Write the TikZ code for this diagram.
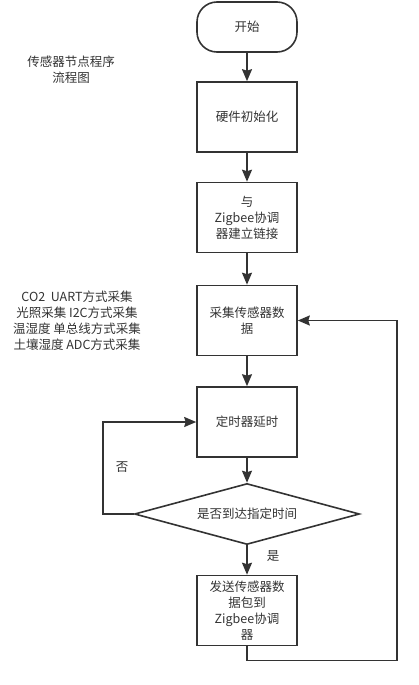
\documentclass[tikz,border=0pt]{standalone}
\usepackage{fontspec}
\setmainfont{Noto Sans CJK SC}
\definecolor{LineGray}{HTML}{333333}
\definecolor{TextGray}{HTML}{333333}
\usepackage{tikz}
\usetikzlibrary{arrows.meta,positioning,shapes.geometric}

\begin{document}
\begin{tikzpicture}[x=1pt,y=-1pt,
        box/.style={draw=LineGray,line width=1.6pt,
                    minimum width=100pt,minimum height=70pt,
                    inner sep=2pt,align=center},
        term/.style={box,rounded corners=20pt,minimum height=50pt},
        ask/.style={draw=LineGray,line width=1.6pt,diamond,aspect=3.7,
                    minimum width=225pt,minimum height=61pt,inner sep=0pt},
        note/.style={align=center},
        arr/.style={draw=LineGray,line width=1.6pt,
                    -{Stealth[length=12pt,width=10pt,inset=1.5pt]}},
        every node/.style={font=\fontsize{12.5}{16}\selectfont,text=TextGray}]

        \useasboundingbox (0,0) rectangle (418,685);

        \node[term]  (start)   at (247,27)    {开始};
        \node[box]   (init)    at (247,117)   {硬件初始化};
        \node[box]   (link)    at (247,217.5) {与\\Zigbee协调\\器建立链接};
        \node[box]   (collect) at (247,320.5) {采集传感器数\\据};
        \node[box]   (wait)    at (247,422)   {定时器延时};
        \node[ask]   (check)   at (247,514)   {是否到达指定时间};
        \node[box]   (send)    at (247,610.5) {发送传感器数\\据包到\\Zigbee协调\\器};

        \node[note] (title) at (71,70)  {传感器节点程序\\流程图};
        \node[note] (modes) at (77,321) {CO2\ \ UART方式采集\\光照采集 I2C方式采集\\温湿度 单总线方式采集\\土壤湿度 ADC方式采集};
        \node (no)  at (122,467) {否};
        \node (yes) at (273,556) {是};

        \coordinate (back) at (397,320.5);

        \foreach \a/\b in {start/init,init/link,link/collect,collect/wait,wait/check,check/send}{
          \draw[arr] (\a) -- (\b);
        }
        \draw[arr] (check.west) -- ++(-31,0) |- (wait);
        \draw[arr] (send.south) -- ++(0,14) -| (back) -- (collect);
      \end{tikzpicture}
\end{document}
